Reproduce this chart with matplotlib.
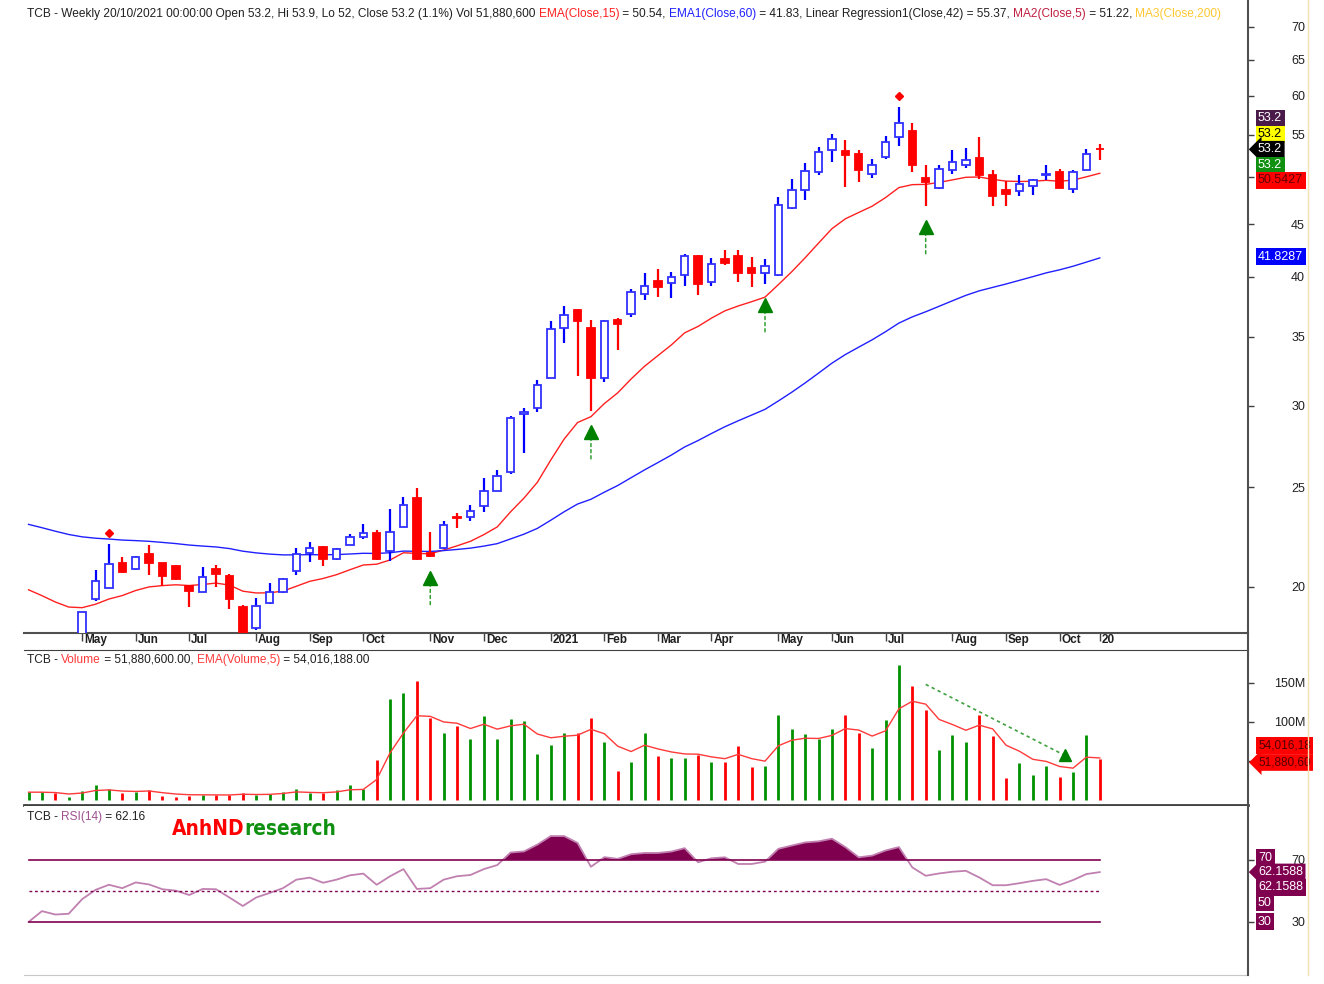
import numpy as np
import matplotlib
matplotlib.use('Agg')
import matplotlib.pyplot as plt
from matplotlib.patches import Rectangle
from matplotlib.lines import Line2D
from matplotlib.transforms import offset_copy, blended_transform_factory

plt.rcParams['font.family'] = ['Liberation Sans', 'DejaVu Sans']

# weekly bars TCB, Apr 2020 -> 20/10/2021
opens = [17.3, 17.5, 17.8, 17.3, 17.7, 19.47, 19.97, 21.08, 20.81, 21.53,
         21.08, 20.96, 20.04, 19.79, 20.81, 20.51, 19.11, 18.26, 19.28, 19.76,
         20.74, 21.57, 21.86, 21.28, 21.97, 22.35, 22.55, 21.68, 22.89, 24.42,
         21.57, 21.81, 23.40, 23.40, 23.94, 24.81, 25.85, 29.45, 29.87, 31.94,
         35.71, 37.17, 35.71, 31.94, 36.30, 36.81, 38.52, 39.66, 39.45, 40.13,
         41.94, 39.59, 41.63, 41.94, 40.80, 40.35, 40.19, 46.62, 48.61, 50.57,
         53.08, 52.96, 52.65, 50.35, 52.30, 54.64, 55.39, 49.90, 48.80, 50.76,
         51.41, 52.19, 50.27, 48.61, 48.50, 49.05, 50.24, 50.53, 48.72, 50.84,
         53.20]
highs = [17.8, 17.9, 17.9, 17.8, 18.9, 20.78, 22.02, 21.37, 21.45, 21.96,
         21.10, 20.98, 20.10, 20.93, 20.98, 20.59, 19.21, 19.50, 20.19, 20.42,
         21.84, 22.10, 21.90, 21.80, 22.52, 23.01, 22.70, 23.80, 24.44, 24.94,
         22.63, 23.15, 23.59, 24.03, 25.51, 25.98, 29.32, 29.87, 31.78, 36.27,
         37.49, 37.20, 36.33, 36.30, 36.48, 38.92, 40.35, 40.71, 40.40, 42.13,
         42.03, 41.72, 42.51, 42.44, 41.82, 41.63, 47.82, 49.83, 51.60, 53.44,
         55.10, 54.28, 53.16, 52.07, 54.86, 58.49, 56.44, 51.41, 51.41, 53.08,
         53.37, 54.64, 50.76, 49.52, 50.27, 49.83, 51.41, 50.92, 50.84, 53.25,
         53.90]
lows = [17.1, 17.3, 17.2, 17.2, 17.6, 19.39, 19.94, 20.65, 20.78, 20.53,
        20.04, 20.33, 19.11, 19.78, 20.01, 19.03, 17.80, 18.16, 19.26, 19.74,
        20.54, 21.15, 20.96, 21.25, 21.95, 22.28, 21.25, 21.21, 22.85, 21.25,
        21.40, 21.78, 22.81, 23.15, 23.67, 24.80, 25.73, 26.97, 29.54, 31.90,
        34.49, 32.02, 29.65, 31.59, 33.99, 36.56, 38.01, 38.24, 38.15, 39.22,
        38.44, 39.16, 41.11, 39.59, 39.10, 39.39, 40.04, 46.60, 47.46, 50.27,
        51.72, 48.91, 49.49, 49.90, 52.07, 53.56, 50.53, 46.90, 48.72, 50.38,
        51.03, 49.79, 46.83, 46.83, 47.89, 48.00, 49.71, 48.78, 48.26, 50.80,
        52.00]
closes = [17.6, 17.8, 17.4, 17.6, 18.9, 20.27, 21.04, 20.68, 21.40, 21.12,
          20.47, 20.35, 19.82, 20.45, 20.59, 19.47, 17.90, 19.17, 19.79, 20.35,
          21.53, 21.81, 21.28, 21.77, 22.38, 22.55, 21.31, 22.63, 24.01, 21.31,
          21.44, 22.98, 23.35, 23.71, 24.81, 25.60, 29.17, 29.54, 31.43, 35.58,
          36.77, 36.21, 31.94, 36.21, 35.99, 38.63, 39.16, 39.10, 39.99, 41.94,
          39.36, 41.17, 41.26, 40.35, 40.35, 40.95, 46.93, 48.54, 50.72, 52.89,
          54.45, 52.49, 50.76, 51.41, 54.12, 56.44, 51.41, 49.41, 50.92, 51.67,
          51.99, 50.27, 47.89, 48.18, 49.24, 49.71, 50.38, 48.80, 50.57, 52.60,
          53.20]
# volume, millions of shares
volumes = [10, 10, 8.5, 4, 11.5, 18.6, 14.4, 8.5, 10, 12.7,
           5, 4.2, 5, 6.3, 6.3, 6.3, 9.3, 6.3, 7.6, 10.6,
           14.4, 8.5, 8.5, 12.3, 18.6, 14.4, 51.7, 128.8, 136.4, 152,
           105.5, 85.6, 94.9, 78, 108, 78, 103.4, 101.3, 59.3, 70,
           85.6, 85.6, 105.5, 73.7, 36.9, 48.3, 86.4, 55.9, 53.8, 53.8,
           58, 48.3, 48.3, 69.5, 42, 43.2, 108.9, 90.7, 84.3, 78,
           90.7, 108.9, 85.6, 66.5, 102, 173, 145.8, 115.3, 64, 83.5,
           74.6, 108.9, 81.4, 28.4, 47, 31.4, 44, 30, 36.4, 83,
           51.88]
rsi = [30, 37.0, 34.8, 35.3, 44.7, 50.7, 54.0, 51.8, 55.5, 54.2,
       51.1, 50.2, 47.4, 51.3, 51.1, 45.8, 40.3, 45.8, 48.7, 51.8,
       57.3, 58.6, 55.3, 57.3, 60.1, 61.2, 54.0, 59.5, 64.1, 51.3,
       51.8, 57.3, 59.5, 60.3, 64.1, 66.7, 74.8, 75.5, 79.9, 85.4,
       85.4, 81.0, 65.6, 71.8, 70.7, 73.7, 74.5, 74.5, 75.4, 77.6,
       68.5, 71.1, 71.7, 67.4, 67.4, 68.9, 77.2, 79.3, 81.3, 82.0,
       83.7, 78.3, 71.7, 72.8, 76.1, 78.3, 65.2, 59.8, 61.3, 62.4,
       63.0, 58.7, 53.7, 53.7, 55.0, 56.5, 57.6, 53.9, 57.0, 60.9,
       62.16]

# indicator values at the first bar (history before the chart)
ema15_start = 19.87
ema60_start = 23.0
vol_ema_start = 10.0

month_ticks = [4, 8, 12, 17, 21, 25, 30, 34, 39, 43, 47, 51, 56, 60, 64, 69, 73, 77, 80]
month_labels = ['May', 'Jun', 'Jul', 'Aug', 'Sep', 'Oct', 'Nov', 'Dec', '2021', 'Feb',
                'Mar', 'Apr', 'May', 'Jun', 'Jul', 'Aug', 'Sep', 'Oct', '20']

buy_signals = [30, 42, 55, 67]
top_signals = [6, 65]
vol_trend_x = [67.0, 77.4]
vol_trend_y = [148, 57]


def ema(values, n, start):
    a = 2.0 / (n + 1)
    out = [start]
    for v in values[1:]:
        out.append(out[-1] + a * (v - out[-1]))
    return np.array(out)


n = len(closes)
x = np.arange(n)
ema15 = ema(closes, 15, ema15_start)
ema60 = ema(closes, 60, ema60_start)
vol_ema = ema(volumes, 5, vol_ema_start)

W, H = 1324, 984
fig = plt.figure(figsize=(W / 100, H / 100), dpi=100)


def px_axes(left, top, right, bottom):
    return fig.add_axes([left / W, 1 - bottom / H, (right - left) / W, (bottom - top) / H])


ax_p = px_axes(24, 0, 1248, 633)
ax_v = px_axes(24, 650, 1248, 805)
ax_r = px_axes(24, 806, 1248, 975)

for ax in (ax_p, ax_v, ax_r):
    ax.set_xlim(-0.34, 91.07)
    for s in ('left', 'right', 'top', 'bottom'):
        ax.spines[s].set_visible(False)
    ax.yaxis.tick_right()
    ax.tick_params(axis='y', direction='out', length=4, width=1, colors='#404040',
                   labelcolor='#202020', labelsize=9, pad=37)
    ax.tick_params(axis='x', bottom=False, labelbottom=False)

# ---- price pane
ax_p.set_yscale('log')
ax_p.set_ylim(18.04, 74.3)
pticks = [20, 25, 30, 35, 40, 45, 50, 55, 60, 65, 70]
ax_p.set_yticks(pticks)
# the 50 label sits under the EMA tag in the original
ax_p.set_yticklabels(['' if t == 50 else str(t) for t in pticks])
ax_p.yaxis.set_minor_locator(matplotlib.ticker.NullLocator())
ax_p.spines['bottom'].set_visible(True)
ax_p.spines['bottom'].set_color('#505050')
ax_p.spines['bottom'].set_linewidth(1.5)

bw = 0.56
for i in range(n):
    up = closes[i] > opens[i]
    col = '#0000ff' if up else '#ff0000'
    ax_p.vlines(i, lows[i], highs[i], color=col, lw=1.6, zorder=2)
    lo, hi = sorted([opens[i], closes[i]])
    ax_p.add_patch(Rectangle((i - bw / 2, lo), bw, hi - lo,
                             facecolor='white' if up else '#ff0000',
                             edgecolor='#3030ff' if up else '#ff0000', lw=1.3, zorder=3))

ax_p.plot(x, ema15, color='#ff2020', lw=1.0, zorder=1)
ax_p.plot(x, ema60, color='#2020ff', lw=1.0, zorder=1)


def shifted(ax, dy):
    return offset_copy(ax.transData, fig=fig, x=0, y=dy, units='dots')


for j in buy_signals:
    ax_p.plot(j, lows[j], marker='^', ms=10, color='#008000', transform=shifted(ax_p, -21),
              clip_on=False, zorder=4)
    ax_p.annotate('', xy=(j, lows[j]), xycoords=shifted(ax_p, -28),
                  xytext=(j, lows[j]), textcoords=shifted(ax_p, -48),
                  arrowprops=dict(arrowstyle='-', ls=(0, (2, 2)), color='#30a030', lw=1.1,
                                  shrinkA=0, shrinkB=0))
for j in top_signals:
    ax_p.plot(j, highs[j], marker='D', ms=4, color='#ff0000', transform=shifted(ax_p, 11),
              zorder=4)

# month labels under the price pane
ax_p.set_xticks(month_ticks)
ax_p.tick_params(axis='x', bottom=True, direction='out', length=6, width=1, colors='#404040')
lab_tr = offset_copy(blended_transform_factory(ax_p.transData, ax_p.transAxes), fig=fig,
                     x=2, y=-7, units='dots')
for t, lab in zip(month_ticks, month_labels):
    ax_p.text(t, 0, lab, transform=lab_tr, ha='left', va='center', fontsize=8.5,
              fontweight='bold', color='#202020', clip_on=False)

# ---- volume pane
ax_v.set_ylim(-6.4, 192)
vcols = ['#009000' if c > o else '#ff0000' for o, c in zip(opens, closes)]
ax_v.vlines(x, 0, volumes, colors=vcols, lw=2)
ax_v.plot(x, vol_ema, color='#ff3a3a', lw=1.0)
ax_v.plot(vol_trend_x, vol_trend_y, ls=(0, (2, 2)), color='#40a040', lw=1.2)
ax_v.plot(vol_trend_x[-1], vol_trend_y[-1], marker='^', ms=9, color='#008000')
ax_v.set_yticks([50, 100, 150])
ax_v.set_yticklabels(['', '100M', '150M'])
ax_v.spines['top'].set_visible(True)
ax_v.spines['top'].set_color('#404040')
ax_v.spines['bottom'].set_visible(True)
ax_v.spines['bottom'].set_color('#404040')
ax_v.spines['bottom'].set_linewidth(2)

# ---- RSI pane
ax_r.set_ylim(-4.2, 104.8)
rsi_arr = np.array(rsi)
ax_r.fill_between(x, rsi_arr, 70, where=rsi_arr > 70, interpolate=True, color='#800050', lw=0)
ax_r.plot(x, rsi_arr, color='#c080b0', lw=1.3)
ax_r.plot([0, n - 1], [70, 70], color='#800050', lw=1.2)
ax_r.plot([0, n - 1], [30, 30], color='#800050', lw=1.2)
ax_r.plot([0, n - 1], [50, 50], color='#800050', lw=1.0, ls=(0, (2, 2)))
ax_r.set_yticks([30, 70])
ax_r.set_yticklabels(['30', '70'])
ax_r.spines['bottom'].set_visible(True)
ax_r.spines['bottom'].set_color('#c8c8c8')

for ax in (ax_p, ax_v, ax_r):
    for lbl in ax.get_yticklabels():
        lbl.set_horizontalalignment('right')


# ---- value tags on the right
def tag(ax, value, text, fc, tc, dy=0, arrow=False, size=9):
    tr = blended_transform_factory(ax.transAxes, ax.transData)
    style = ('larrow' if arrow else 'square') + ',pad=0.2'
    ax.annotate(text, xy=(1, value), xycoords=tr, xytext=(10, dy), textcoords='offset pixels',
                ha='left', va='center', fontsize=size, color=tc,
                bbox=dict(boxstyle=style, fc=fc, ec='none'), annotation_clip=False, zorder=10)


tag(ax_p, 53.2, '53.2', '#4a1a4a', 'white', 31)
tag(ax_p, 53.2, '53.2', '#ffff00', 'black', 15)
tag(ax_p, 53.2, '53.2', 'black', 'white', 0, arrow=True)
tag(ax_p, 53.2, '53.2', '#109010', 'white', -16)
tag(ax_p, 50.5427, '50.5427', '#ff0000', '#600000', -8)
tag(ax_p, 41.8287, '41.8287', '#0000ff', 'white', 0)

tag(ax_v, 54.016, '54,016,18', '#ff0000', '#500000', 12, size=8.5)
tag(ax_v, 51.88, '51,880,60', '#ff0000', '#500000', -3, arrow=True, size=8.5)

tag(ax_r, 70, '70', '#800050', 'white', 2)
tag(ax_r, 62.16, '62.1588', '#800050', 'white', 0, arrow=True)
tag(ax_r, 62.16, '62.1588', '#800050', 'white', -15)
tag(ax_r, 50, '50', '#800050', 'white', -12)
tag(ax_r, 30, '30', '#800050', 'white', 0)


# ---- pane headers (multi-coloured)
def header(ax, pieces, x_px, y_px, size=8.6, weight='normal'):
    t = fig.text(x_px / W, 1 - y_px / H, pieces[0][0], color=pieces[0][1], fontsize=size,
                 fontweight=weight, ha='left', va='center')
    for s, c in pieces[1:]:
        t = ax.annotate(s, xy=(1, 0), xycoords=t, ha='left', va='bottom', color=c,
                        fontsize=size, fontweight=weight, annotation_clip=False)


dark = '#202020'
header(ax_p, [('TCB - Weekly 20/10/2021 00:00:00 Open 53.2, Hi 53.9, Lo 52, Close 53.2 (1.1%) '
               'Vol 51,880,600 ', dark),
              ('EMA(Close,15)', '#ff2020'), (' = 50.54, ', dark),
              ('EMA1(Close,60)', '#2020ff'),
              (' = 41.83, Linear Regression1(Close,42) = 55.37, ', dark),
              ('MA2(Close,5)', '#c02040'), (' = 51.22, ', dark),
              ('MA3(Close,200)', '#ffc830')], 27, 14)
header(ax_v, [('TCB - ', dark), ('Volume', '#ff3a3a'), (' = 51,880,600.00, ', dark),
              ('EMA(Volume,5)', '#ff3a3a'), (' = 54,016,188.00', dark)], 27, 660)
header(ax_r, [('TCB - ', dark), ('RSI(14)', '#a05090'), (' = 62.16', dark)], 27, 817)

# watermark, narrow bold; size fitted to the original width
wm_font = dict(family=['Liberation Sans Narrow', 'DejaVu Sans'], fontweight='bold',
               fontstretch='condensed')
wm1 = fig.text(172 / W, 1 - 829 / H, 'AnhND', color='#ff0000', fontsize=20,
               ha='left', va='center', **wm_font)
wm2 = ax_r.annotate('research', xy=(1, 0), xycoords=wm1, ha='left', va='bottom',
                    color='#109010', fontsize=20, annotation_clip=False, **wm_font)
renderer = fig.canvas.get_renderer()
wm_width = wm2.get_window_extent(renderer).x1 - wm1.get_window_extent(renderer).x0
scale = 164.0 / wm_width
wm1.set_fontsize(20 * scale)
wm2.set_fontsize(20 * scale)

# frame lines
fig.add_artist(Line2D([1248 / W] * 2, [1.0, 1 - 975 / H], color='#505050', lw=1.5))
fig.add_artist(Line2D([1308 / W] * 2, [1.0, 1 - 975 / H], color='#f5e0b0', lw=1.0))

fig.savefig('out.png', dpi=100, facecolor='white')
